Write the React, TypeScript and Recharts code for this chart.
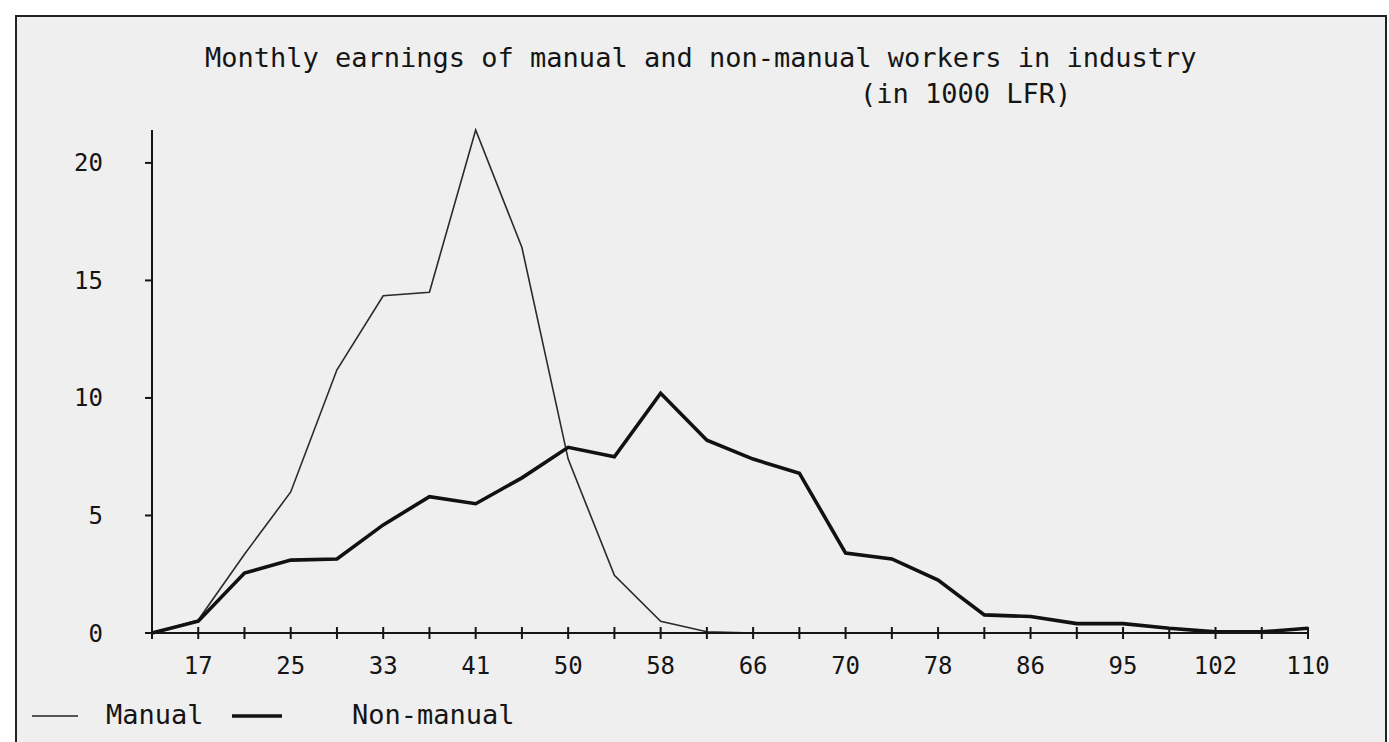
import React from 'react';
import { LineChart, Line, XAxis, YAxis } from 'recharts';

// earnings classes (1000 LFR), every other one is labelled on the axis
const classes = ['13', '17', '21', '25', '29', '33', '37', '41', '45', '50', '54', '58', '62', '66', '68', '70', '74', '78', '82', '86', '90', '95', '98', '102', '106', '110'];
const manual = [0, 0.55, 3.35, 6.0, 11.2, 14.35, 14.5, 21.4, 16.4, 7.4, 2.45, 0.5, 0.05, 0, null, null, null, null, null, null, null, null, null, null, null, null];
const nonManual = [0, 0.5, 2.55, 3.1, 3.15, 4.6, 5.8, 5.5, 6.6, 7.9, 7.5, 10.2, 8.2, 7.4, 6.8, 3.4, 3.15, 2.25, 0.77, 0.7, 0.4, 0.4, 0.2, 0.05, 0.05, 0.2];
const yTicks = [0, 5, 10, 15, 20];
const seriesNames = ['Manual', 'Non-manual'];

const data = classes.map((c, i) => ({ cls: c, manual: manual[i], nonManual: nonManual[i] }));

const FONT = '"DejaVu Sans Mono", "Liberation Mono", monospace';
const INK = '#151515';

const abs = (left: number, top: number): React.CSSProperties => ({
  position: 'absolute', left, top, fontFamily: FONT, fontSize: 27, color: INK, lineHeight: '36px', whiteSpace: 'pre',
});

// x tick: mark crosses the axis, label only on every other class
const XTick = (props: any) => {
  const { x, y, payload, index } = props;
  const axisY = y - 7 - 17;
  return (
    <g>
      <line x1={x} y1={axisY - 6} x2={x} y2={axisY + 6} stroke={INK} strokeWidth={2} />
      {index % 2 === 1 && (
        <text x={x} y={y} dy="0.71em" textAnchor="middle" fill={INK} fontFamily={FONT} fontSize={24}>
          {payload.value}
        </text>
      )}
    </g>
  );
};

export default function App() {
  return (
    <div style={{ position: 'absolute', left: 0, top: 0, width: 1389, height: 742, background: '#fff', overflow: 'hidden' }}>
      <div
        style={{
          position: 'absolute', left: 15, top: 15, width: 1368, height: 740,
          background: '#efefef', borderTop: '2px solid #222', borderLeft: '2px solid #222', borderRight: '2px solid #222',
        }}
      />
      <div style={abs(205, 40)}>Monthly earnings of manual and non-manual workers in industry</div>
      <div style={abs(860, 76)}>(in 1000 LFR)</div>

      <div style={{ position: 'absolute', left: 0, top: 0 }}>
        <LineChart width={1389} height={742} data={data} margin={{ top: 130, right: 81, bottom: 49, left: 92 }}>
          <XAxis
            dataKey="cls"
            interval={0}
            axisLine={{ stroke: INK, strokeWidth: 2 }}
            tickLine={false}
            tickSize={7}
            tickMargin={17}
            tick={<XTick />}
            height={60}
          />
          <YAxis
            type="number"
            domain={[0, 21.4]}
            ticks={yTicks}
            width={60}
            axisLine={{ stroke: INK, strokeWidth: 2 }}
            tickLine={{ stroke: INK, strokeWidth: 2 }}
            tickSize={7}
            tickMargin={42}
            tick={{ fill: INK, fontFamily: FONT, fontSize: 24 }}
          />
          <Line type="linear" dataKey="manual" name={seriesNames[0]} stroke="#2a2a2a" strokeWidth={1.6} dot={false} isAnimationActive={false} />
          <Line type="linear" dataKey="nonManual" name={seriesNames[1]} stroke="#111" strokeWidth={3.6} dot={false} isAnimationActive={false} />
        </LineChart>
      </div>

      {/* legend */}
      <svg style={{ position: 'absolute', left: 0, top: 706 }} width={300} height={20}>
        <line x1={32} y1={10} x2={78} y2={10} stroke="#222" strokeWidth={1.6} />
        <line x1={232} y1={10} x2={282} y2={10} stroke="#111" strokeWidth={3.6} />
      </svg>
      <div style={abs(106, 697)}>{seriesNames[0]}</div>
      <div style={abs(352, 697)}>{seriesNames[1]}</div>
    </div>
  );
}
